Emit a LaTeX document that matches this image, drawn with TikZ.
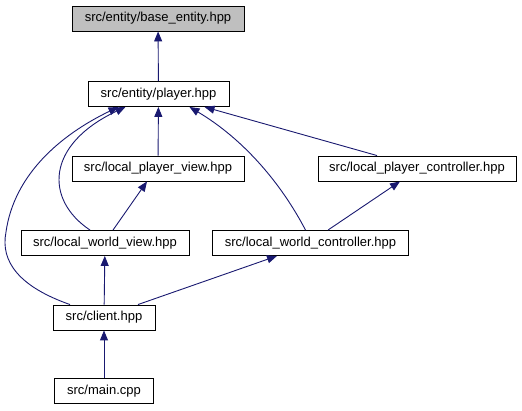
\documentclass[tikz,border=0pt]{standalone}
\usepackage{fontspec}
\setmainfont{Liberation Sans}
\usetikzlibrary{arrows.meta}
\definecolor{edgeblue}{RGB}{25,25,112}
\definecolor{boxgray}{RGB}{191,191,191}
\begin{document}
\begin{tikzpicture}[x=1pt, y=-1pt,
		file/.style={draw=black, line width=0.9pt, inner sep=0pt, minimum height=25pt,
			font=\fontsize{13}{15}\selectfont},
		inc/.style={draw=edgeblue, line width=0.9pt, -{Triangle[length=10pt, width=8pt]}}]
		\useasboundingbox (0, 0) rectangle (522, 411);
		\node [file, fill=boxgray, minimum width=172pt] (base) at (158, 18.5) {src/entity/base\_entity.hpp};
		\node [file, minimum width=141pt] (player) at (158.5, 94) {src/entity/player.hpp};
		\node [file, minimum width=172pt] (lpview) at (158, 168.5) {src/local\_player\_view.hpp};
		\node [file, minimum width=198pt] (lpctrl) at (417, 168.5) {src/local\_player\_controller.hpp};
		\node [file, minimum width=168pt] (lwview) at (105, 243) {src/local\_world\_view.hpp};
		\node [file, minimum width=196pt] (lwctrl) at (310.5, 243) {src/local\_world\_controller.hpp};
		\node [file, minimum width=102pt] (client) at (104, 317.5) {src/client.hpp};
		\node [file, minimum width=99pt] (mainfile) at (104, 391) {src/main.cpp};
		\draw [inc] (player) -- (base);
		\draw [inc] (lpview) -- (player);
		\draw [inc] ([xshift=-40pt]lpctrl.north) -- ([xshift=46pt]player.south);
		\draw [inc] ([xshift=-5pt]lwctrl.north) .. controls (282, 185) and (245, 140) .. ([xshift=31pt]player.south);
		\draw [inc] ([xshift=-15pt]lwview.north) .. controls (45, 200) and (45, 145) .. ([xshift=-33pt]player.south);
		\draw [inc] ([xshift=-34pt]client.north) .. controls (20, 287) and (0, 262) .. (6, 232)
			.. controls (14, 175) and (60, 135) .. ([xshift=-40pt]player.south);
		\draw [inc] ([xshift=8pt]lwview.north) -- ([xshift=-11pt]lpview.south);
		\draw [inc] ([xshift=17.5pt]lwctrl.north) -- ([xshift=-17pt]lpctrl.south);
		\draw [inc] (client) -- (lwview);
		\draw [inc] ([xshift=34pt]client.north) -- ([xshift=-33.5pt]lwctrl.south);
		\draw [inc] (mainfile) -- (client);
	\end{tikzpicture}
\end{document}
